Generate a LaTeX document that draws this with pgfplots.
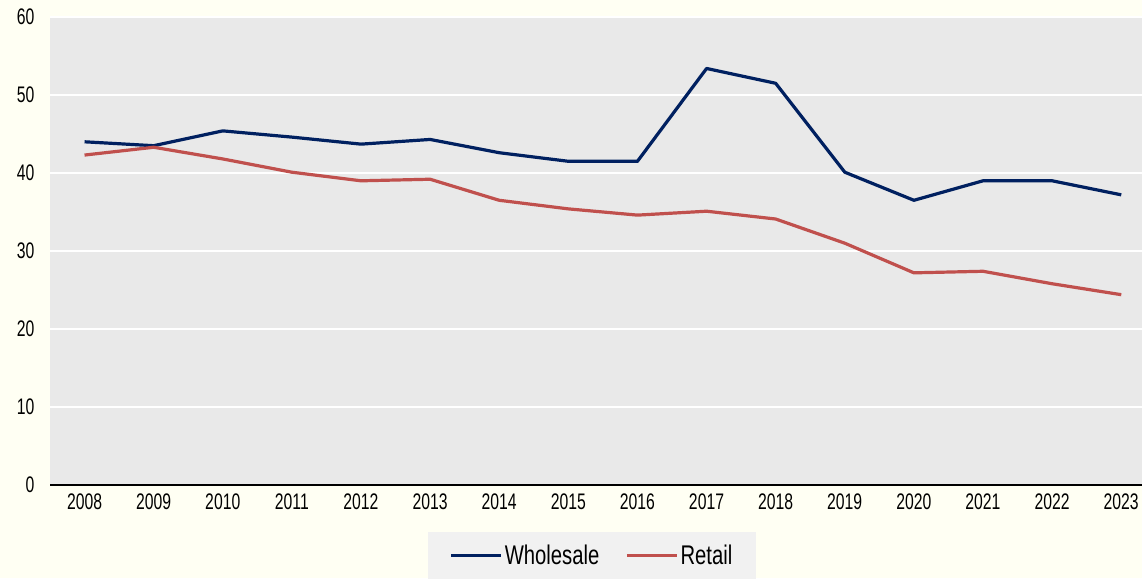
\documentclass[border=0pt]{standalone}
\usepackage{fontspec}
\setmainfont{Liberation Sans}[FakeStretch=0.7]
\newfontfamily\legfont{Liberation Sans}[FakeStretch=0.75]
\usepackage{pgfplots}
\pgfplotsset{compat=1.18}
\definecolor{cream}{HTML}{FFFFF3}
\definecolor{plotbg}{HTML}{E9E9E9}
\definecolor{leggray}{HTML}{F1F1F1}
\definecolor{navy}{HTML}{002060}
\definecolor{retailred}{HTML}{C0504D}
\begin{document}
\begin{tikzpicture}[x=1pt,y=1pt]
\fill[cream] (0,0) rectangle (1142,578);
\useasboundingbox (0,0) rectangle (1142,578);
\begin{axis}[
  at={(50pt,93pt)}, anchor=south west,
  width=1092pt, height=468pt, scale only axis,
  xmin=2007.5, xmax=2023.3,
  ymin=0, ymax=60,
  xtick={2008,...,2023},
  ytick={0,10,...,60},
  axis background/.style={fill=plotbg},
  axis line style={draw=none},
  ymajorgrids, grid style={white, line width=2.3pt},
  major tick length=0pt,
  tick label style={font=\fontsize{22.5}{24}\selectfont, /pgf/number format/assume math mode=true},
  xticklabel style={/pgf/number format/1000 sep={}, yshift=-5pt},
  yticklabel style={xshift=-12pt},
  clip=false,
  legend columns=2,
  legend style={at={(0.4963,-0.1004)}, anchor=north, fill=leggray, draw=none,
    font=\legfont\fontsize{27}{29}\selectfont, inner xsep=22pt, inner ysep=11pt,
    /tikz/every even column/.append style={column sep=24pt}},
  legend image code/.code={\draw[#1] (0pt,0pt) -- (50pt,0pt);},
]
\draw[black, line width=2.2pt] (axis cs:2007.5,0) -- (axis cs:2023.3,0);
\addplot[navy, line width=3.2pt, line join=round] coordinates {
(2008,44.0) (2009,43.5) (2010,45.4) (2011,44.6) (2012,43.7) (2013,44.3)
(2014,42.6) (2015,41.5) (2016,41.5) (2017,53.4) (2018,51.5) (2019,40.1)
(2020,36.5) (2021,39.0) (2022,39.0) (2023,37.2)};
\addlegendentry{Wholesale}
\addplot[retailred, line width=3.2pt, line join=round] coordinates {
(2008,42.3) (2009,43.3) (2010,41.8) (2011,40.1) (2012,39.0) (2013,39.2)
(2014,36.5) (2015,35.4) (2016,34.6) (2017,35.1) (2018,34.1) (2019,31.0)
(2020,27.2) (2021,27.4) (2022,25.8) (2023,24.4)};
\addlegendentry{Retail}
\end{axis}
\end{tikzpicture}
\end{document}
